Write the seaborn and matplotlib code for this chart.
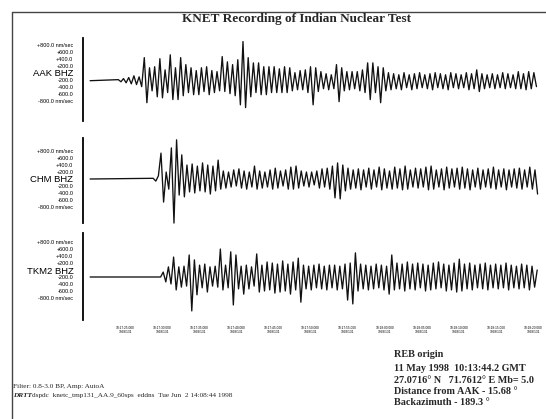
import numpy as np
import pandas as pd
import matplotlib
matplotlib.use("Agg")
import matplotlib.pyplot as plt
import seaborn as sns
from matplotlib.lines import Line2D

# ---------------- data ----------------
title = "KNET Recording of Indian Nuclear Test"
stations = ["AAK BHZ", "CHM BHZ", "TKM2 BHZ"]
amp_tick_values = [800, 600, 400, 200, 0, -200, -400, -600, -800]
amp_tick_labels = ["+800.0 nm/sec", "+600.0", "+400.0", "+200.0", "",
                   "-200.0", "-400.0", "-600.0", "-800.0 nm/sec"]
# seconds after 10:17:20 (1998/131)
time_tick_sec = [5, 10, 15, 20, 25, 30, 35, 40, 45, 50, 55, 60]
time_tick_labels = ["10:17:25.000\n1998/131", "10:17:30.000\n1998/131",
                    "10:17:35.000\n1998/131", "10:17:40.000\n1998/131",
                    "10:17:45.000\n1998/131", "10:17:50.000\n1998/131",
                    "10:17:55.000\n1998/131", "10:18:00.000\n1998/131",
                    "10:18:05.000\n1998/131", "10:18:10.000\n1998/131",
                    "10:18:15.000\n1998/131", "10:18:20.000\n1998/131"]

record_start = 0.3      # s
half_period = 0.35      # s between successive extremes

aak_onset = 4.1
aak_amp = [30, -30, 60, -60, 90, -90, 140, -110, 110, -170,
           660, -630, 370, -290, 400, -460, 630, -490, 310, -340,
           740, -540, 370, -540, 660, -430, 460, -340, 370, -400,
           290, -400, 370, -310, 400, -400, 290, -340, 260, -290,
           690, -310, 540, -370, 460, -430, 600, -690, 1120, -770,
           660, -460, 510, -340, 510, -400, 400, -400, 400, -340,
           400, -340, 340, -340, 400, -340, 370, -290, 230, -260,
           290, -260, 310, -340, 400, -690, 370, -310, 260, -230,
           200, -260, 170, -230, 460, -600, 370, -290, 260, -260,
           260, -230, 260, -290, 310, -340, 510, -540, 510, -340,
           400, -630, 370, -290, 230, -260, 200, -230, 170, -260,
           230, -200, 170, -260, 200, -230, 230, -200, 170, -230,
           200, -260, 230, -200, 200, -230, 170, -260, 230, -200,
           200, -230, 170, -200, 230, -260, 200, -230, 310, -310,
           200, -230, 170, -200, 200, -230, 170, -200, 230, -230,
           200, -200, 170, -230, 260, -230, 200, -260, 260, -230,
           230, -170]

chm_onset = 8.8
chm_amp = [20, -60, 90, 740, -660, 200, -290, 890, -1260, 1120,
           -460, 690, -510, 400, -370, 430, -400, 370, -340, 460,
           -370, 400, -430, 370, -340, 540, -290, 230, -260, 200,
           -230, 260, -200, 290, -260, 230, -290, 200, -230, 370,
           -290, 230, -260, 200, -230, 260, -290, 310, -260, 230,
           -200, 260, -290, 340, -290, 370, -260, 230, -200, 200,
           -230, 200, -170, 230, -260, 290, -230, 310, -290, 370,
           -540, 460, -570, 400, -340, 310, -290, 260, -260, 290,
           -310, 260, -230, 310, -290, 260, -230, 340, -310, 290,
           -260, 230, -290, 340, -260, 290, -310, 370, -290, 260,
           -230, 310, -260, 290, -230, 340, -310, 370, -290, 260,
           -230, 290, -310, 340, -260, 290, -230, 310, -290, 340,
           -260, 290, -310, 260, -230, 310, -290, 260, -230, 290,
           -260, 340, -290, 260, -230, 290, -310, 260, -230, 290,
           -260, 310, -290, 260, -230, 340, -290, 260, -430]

tkm2_onset = 9.8
tkm2_amp = [0, 140, -140, 290, -200, 570, -370, 290, -290, 310,
            -260, 630, -970, 490, -510, 340, -310, 370, -430, 290,
            -260, 310, -290, 800, -370, 340, -310, 720, -800, 630,
            -340, 310, -490, 340, -340, 290, -260, 660, -430, 340,
            -400, 430, -370, 400, -460, 370, -430, 460, -400, 370,
            -490, 430, -370, 540, -720, 340, -340, 310, -370, 340,
            -310, 370, -340, 310, -370, 340, -310, 340, -370, 310,
            -340, 370, -660, 400, -770, 690, -400, 370, -340, 340,
            -370, 310, -340, 370, -310, 340, -370, 310, -490, 630,
            -370, 400, -340, 370, -400, 430, -340, 370, -370, 400,
            -310, 370, -400, 340, -370, 400, -340, 430, -310, 370,
            -400, 340, -370, 400, -430, 510, -400, 370, -340, 400,
            -370, 340, -310, 370, -340, 400, -370, 340, -310, 370,
            -340, 340, -310, 400, -370, 340, -310, 310, -340, 370,
            -310, 340, -370, 310, -290, 200]

onsets = [aak_onset, chm_onset, tkm2_onset]
amps = [aak_amp, chm_amp, tkm2_amp]

filter_text = "Filter: 0.8-3.0 BP, Amp: AutoA"
prog_tag = "DRTT"
prog_text = "dspdc  knetc_tmp131_AA.9_60sps  eddns  Tue Jun  2 14:08:44 1998"
origin_lines = ["REB origin",
                "11 May 1998  10:13:44.2 GMT",
                "27.0716\u00b0 N   71.7612\u00b0 E Mb= 5.0",
                "Distance from AAK - 15.68 \u00b0",
                "Backazimuth - 189.3 \u00b0"]

# ---------------- layout ----------------
sns.set_style("white")
plt.rcParams["font.family"] = ["Liberation Sans", "DejaVu Sans"]

W, H = 546, 419
fig = plt.figure(figsize=(W / 100, H / 100), dpi=100)
fig.patch.set_facecolor("white")


def fx(px):
    return px / W


def fy(py):
    return 1 - py / H


SCALE = 28.6  # nm/sec per pixel
# top, bottom, baseline, label-centre offset (px above baseline)
panels = [(38, 121, 80.7, 8.0), (138, 223, 179.0, 0.0), (233, 320, 277.0, 7.0)]
AX_L, AX_R = 83, 545
XLIM = (-0.66, 61.6)

for i, (top, bot, base, off) in enumerate(panels):
    ax = fig.add_axes([fx(AX_L), fy(bot), fx(AX_R) - fx(AX_L), (bot - top) / H])
    t = np.concatenate([[record_start],
                        onsets[i] + half_period * np.arange(len(amps[i]))])
    v = np.concatenate([[0.0], np.asarray(amps[i], dtype=float)])
    df = pd.DataFrame({"t": t, "v": v})
    sns.lineplot(data=df, x="t", y="v", ax=ax, color="#111111", lw=0.95,
                 estimator=None, sort=False)
    for ln in ax.lines:
        ln.set_clip_on(False)
        ln.set_solid_joinstyle("round")
    ax.set_xlim(*XLIM)
    ax.set_ylim(-(bot - base) * SCALE, (base - top) * SCALE)
    ax.set_xlabel("")
    ax.set_ylabel("")
    ax.set_facecolor("none")
    for s in ["top", "right", "bottom"]:
        ax.spines[s].set_visible(False)
    ax.spines["left"].set_color("black")
    ax.spines["left"].set_linewidth(1.3)

    labels = list(amp_tick_labels)
    labels[4] = stations[i]
    pos = [val + off * SCALE for val in amp_tick_values]
    ax.set_yticks(pos, labels)
    ax.tick_params(axis="y", length=0, pad=7.0, labelsize=4.0, colors="black")
    ax.get_yticklabels()[4].set_fontsize(6.8)

    if i == 2:
        ax.set_xticks(time_tick_sec, time_tick_labels)
        ax.tick_params(axis="x", length=0, pad=4.0, labelsize=2.3, colors="black")
        for lab in ax.get_xticklabels():
            lab.set_linespacing(1.0)
    else:
        ax.set_xticks([])

# frame
fig.add_artist(Line2D([fx(12), 1.0], [fy(12), fy(12)], color="#444444", lw=1.0))
fig.add_artist(Line2D([fx(12), fx(12)], [fy(12), 0.0], color="#444444", lw=1.0))

serif = ["Liberation Serif", "DejaVu Serif"]
fig.text(fx(297), fy(19), title, ha="center", va="center", family=serif,
         weight="bold", fontsize=9.5)

fig.text(fx(13), fy(386), filter_text, ha="left", va="center", family=serif,
         fontsize=5.2)
fig.text(fx(13), fy(395.5), prog_tag, ha="left", va="center", family=serif,
         fontsize=5.2, weight="bold", style="italic")
fig.text(fx(32), fy(395.5), prog_text, ha="left", va="center", family=serif,
         fontsize=5.2)

for j, (line, ypx) in enumerate(zip(origin_lines, [354, 368, 380, 391.5, 402.5])):
    fig.text(fx(394), fy(ypx), line, ha="left", va="center", family=serif,
             weight="bold", fontsize=7.3)

fig.savefig("out.png", dpi=100, facecolor="white")
